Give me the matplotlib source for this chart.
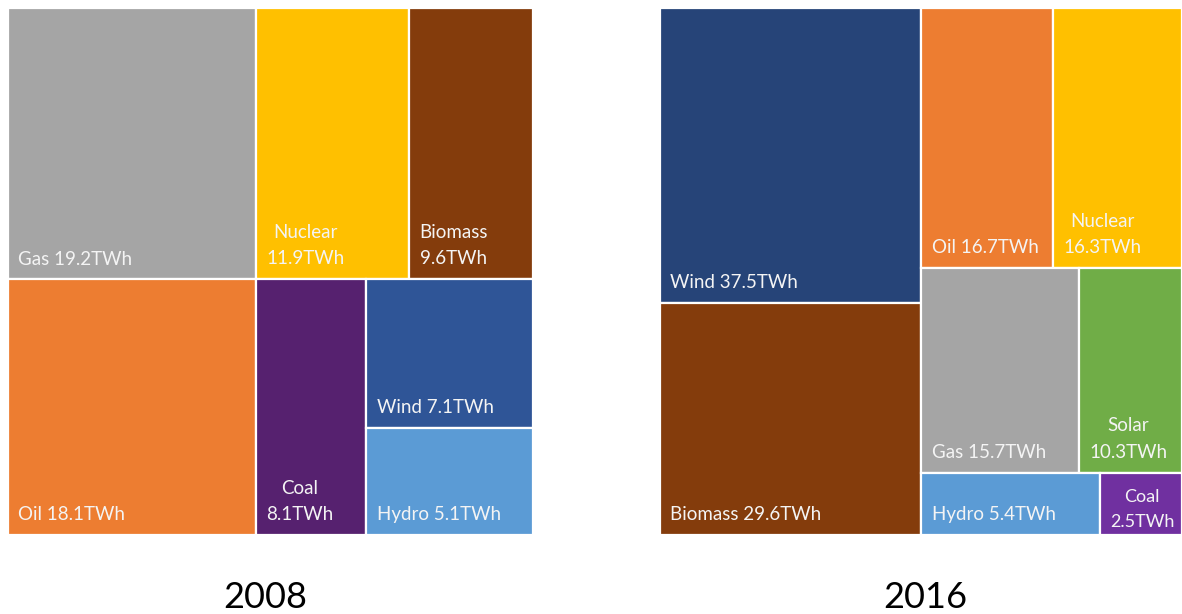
import matplotlib
matplotlib.use("Agg")
import matplotlib.pyplot as plt
from matplotlib.patches import Rectangle

plt.rcParams['font.family'] = ['Lato', 'DejaVu Sans']

# 2008 electricity mix (TWh)
names_2008 = ["Gas", "Oil", "Nuclear", "Biomass", "Coal", "Wind", "Hydro"]
values_2008 = [19.2, 18.1, 11.9, 9.6, 8.1, 7.1, 5.1]
colors_2008 = ["#A5A5A5", "#ED7D31", "#FFC000", "#843C0C", "#56216F", "#2F5597", "#5B9BD5"]
groups_2008 = [2, 2, 1, 2]
orient_2008 = ["col", "row", "col", "col"]

# 2016 electricity mix (TWh)
names_2016 = ["Wind", "Biomass", "Oil", "Nuclear", "Gas", "Solar", "Hydro", "Coal"]
values_2016 = [37.5, 29.6, 16.7, 16.3, 15.7, 10.3, 5.4, 2.5]
colors_2016 = ["#264478", "#843C0C", "#ED7D31", "#FFC000", "#A5A5A5", "#70AD47", "#5B9BD5", "#7030A0"]
groups_2016 = [2, 2, 2, 2]
orient_2016 = ["col", "row", "row", "row"]

years = ["2008", "2016"]


def strip_layout(values, groups, orients):
    """Split the unit square into strips; each strip takes its share of the remaining total."""
    x0, y0, w, h = 0.0, 0.0, 1.0, 1.0
    remaining = float(sum(values))
    rects = []
    i = 0
    for n, orient in zip(groups, orients):
        vals = values[i:i + n]
        s = float(sum(vals))
        frac = s / remaining
        if orient == "col":
            sw = w * frac
            yy = y0
            for v in vals:
                hh = h * v / s
                rects.append((x0, yy, sw, hh))
                yy += hh
            x0 += sw
            w -= sw
        else:
            sh = h * frac
            xx = x0
            for v in vals:
                ww = w * v / s
                rects.append((xx, y0, ww, sh))
                xx += ww
            y0 += sh
            h -= sh
        remaining -= s
        i += n
    return rects


fig = plt.figure(figsize=(11.82, 6.14), dpi=100)
fig.patch.set_facecolor("white")

W, H = 1182.0, 614.0
ax_left = fig.add_axes([8 / W, 79 / H, 525 / W, 527 / H])
ax_right = fig.add_axes([660 / W, 79 / H, 522 / W, 527 / H])

renderer = fig.canvas.get_renderer()
PAD_X = 7.5      # points from left edge of tile
PAD_Y = 10.5     # points from bottom edge of tile to baseline
FS = 13.5
TXT_COLOR = "#F4F4F4"


def draw_treemap(ax, names, values, colors, groups, orients, year, year_x):
    ax.set_xlim(0, 1)
    ax.set_ylim(1, 0)
    ax.axis("off")
    rects = strip_layout(values, groups, orients)
    bbox = ax.get_window_extent(renderer)
    for (x, y, w, h), name, val, col in zip(rects, names, values, colors):
        ax.add_patch(Rectangle((x, y), w, h, facecolor=col, edgecolor="white",
                               linewidth=1.6))
        tile_w_pt = w * bbox.width * 72 / fig.dpi
        avail = tile_w_pt - 2 * PAD_X
        label = f"{name} {val}TWh"
        fs = FS
        t = ax.annotate(label, xy=(x, y + h), xytext=(PAD_X, PAD_Y),
                        textcoords="offset points", ha="left", va="baseline",
                        color=TXT_COLOR, fontsize=fs, multialignment="center",
                        linespacing=1.7)
        wpt = t.get_window_extent(renderer).width * 72 / fig.dpi
        if wpt > avail:
            t.set_text(f"{name}\n{val}TWh")
            wpt = t.get_window_extent(renderer).width * 72 / fig.dpi
            while wpt > avail + 4 and fs > 8:
                fs -= 0.5
                t.set_fontsize(fs)
                wpt = t.get_window_extent(renderer).width * 72 / fig.dpi
            if fs < FS:
                t.xyann = (PAD_X, PAD_Y * 0.55)
    ax.text(year_x, -73 / 527, year, transform=ax.transAxes, ha="center",
            va="baseline", fontsize=26, color="black")


draw_treemap(ax_left, names_2008, values_2008, colors_2008, groups_2008, orient_2008,
             years[0], 0.490)
draw_treemap(ax_right, names_2016, values_2016, colors_2016, groups_2016, orient_2016,
             years[1], 0.509)

fig.savefig("out.png", dpi=100, facecolor="white")
